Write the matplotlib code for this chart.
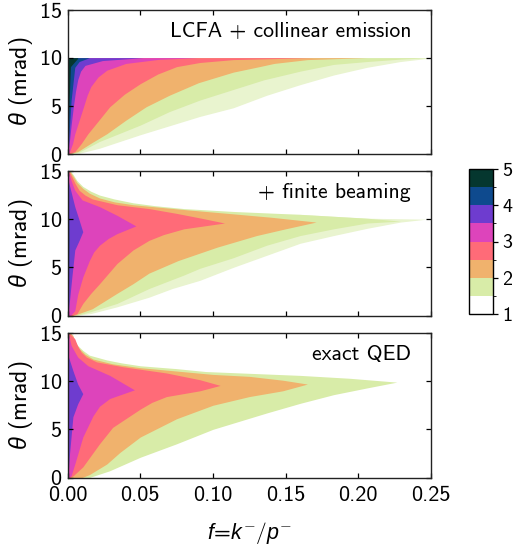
import matplotlib
matplotlib.use('Agg')
import matplotlib.pyplot as plt
from matplotlib.colors import ListedColormap, BoundaryNorm
from matplotlib.cm import ScalarMappable

plt.rcParams['font.family'] = ['cmss10', 'DejaVu Sans']
plt.rcParams['mathtext.fontset'] = 'custom'
plt.rcParams['mathtext.rm'] = 'cmss10'
plt.rcParams['mathtext.it'] = 'Liberation Sans:italic'
plt.rcParams['mathtext.fallback'] = 'cm'
plt.rcParams['axes.unicode_minus'] = False
plt.rcParams['axes.formatter.use_mathtext'] = True

# colour levels of the colourbar, lowest to highest
levels = [1, 1.5, 2, 2.5, 3, 3.5, 4, 4.5, 5]
colors = ['#ffffff', '#d8eca8', '#f0b26d', '#ff6b78', '#dd44bb', '#6e3ccf', '#0e4a8e', '#05372f']
cbar_ticks = [1, 2, 3, 4, 5]
speckle = '#e9f4cf'

# panel 1: LCFA + collinear emission, outer edge of each level
p1_fringe_t = [0, 0.07, 0.6, 2.0, 3.9, 4.8, 6.1, 7.2, 8.2, 9.0, 9.6, 10]
p1_fringe_f = [0.002, 0.008, 0.022, 0.05, 0.091, 0.114, 0.137, 0.16, 0.183, 0.206, 0.229, 0.252]
p1_green_t = [0, 0.2, 1.3, 3.0, 4.4, 5.6, 6.7, 7.7, 8.6, 9.3, 9.6, 9.85, 10]
p1_green_f = [0.002, 0.008, 0.022, 0.05, 0.07, 0.091, 0.114, 0.135, 0.16, 0.183, 0.206, 0.229, 0.25]
p1_orange_t = [0, 0.25, 1.2, 2.1, 3.5, 4.9, 6.1, 7.4, 8.5, 9.07, 9.4, 9.8, 10]
p1_orange_f = [0.001, 0.007, 0.017, 0.027, 0.04, 0.054, 0.07, 0.09, 0.114, 0.132, 0.142, 0.165, 0.206]
p1_pink_t = [0, 0.25, 1.1, 2.1, 3.4, 4.9, 6.2, 7.3, 8.3, 9.07, 9.5, 9.8, 10]
p1_pink_f = [0.0005, 0.005, 0.0095, 0.014, 0.021, 0.029, 0.039, 0.05, 0.062, 0.075, 0.091, 0.114, 0.169]
p1_magenta_t = [0, 0.25, 1.1, 2.1, 3.5, 4.9, 6.1, 7, 8, 8.7, 9.4, 9.83, 10]
p1_magenta_f = [0.0003, 0.0014, 0.0035, 0.005, 0.008, 0.011, 0.0135, 0.016, 0.021, 0.027, 0.04, 0.063, 0.09]
p1_purple_t = [0, 1.45, 3, 4.9, 6.5, 7.7, 8.6, 9.2, 9.7, 10]
p1_purple_f = [0.0002, 0.0014, 0.0025, 0.004, 0.0055, 0.007, 0.009, 0.012, 0.024, 0.052]
p1_blue_t = [0, 0.75, 5.6, 9, 9.6, 10]
p1_blue_f = [0.0001, 0.0005, 0.0025, 0.005, 0.008, 0.015]
p1_dark_t = [0, 5, 9.07, 9.93, 10]
p1_dark_f = [0.0001, 0.001, 0.002, 0.007, 0.007]

# panel 2: + finite beaming
p2_fringe_t = [0, 0.2, 0.9, 1.9, 2.8, 3.65, 5.0, 6.25, 7.5, 8.3, 9.05, 9.7, 10, 10.1, 10.5]
p2_fringe_f = [0.006, 0.016, 0.034, 0.056, 0.072, 0.091, 0.114, 0.137, 0.16, 0.183, 0.206, 0.229, 0.247, 0.206, 0.16]
p2_green_t = [0, 0.4, 1.25, 2.8, 4.2, 4.9, 6, 7.3, 8.3, 9, 9.6, 9.8, 10.1, 10.5, 10.8, 11.1, 11.4, 11.7, 12.1, 12.5, 12.9, 13.4, 14, 14.6, 15]
p2_green_f = [0.006, 0.016, 0.034, 0.056, 0.08, 0.091, 0.114, 0.137, 0.16, 0.183, 0.206, 0.229, 0.206, 0.16, 0.114, 0.08, 0.06, 0.045, 0.032, 0.022, 0.016, 0.0105, 0.0065, 0.004, 0.002]
p2_orange_t = [0, 0.7, 2.3, 3.3, 4.4, 5.7, 7.1, 8.3, 9.0, 9.4, 9.7, 10.2, 10.55, 11, 11.5, 11.8, 12.2, 12.7, 13.2, 13.8, 14.5, 15]
p2_orange_f = [0.004, 0.017, 0.034, 0.045, 0.056, 0.076, 0.103, 0.13, 0.15, 0.162, 0.171, 0.14, 0.114, 0.08, 0.045, 0.032, 0.022, 0.015, 0.0105, 0.0065, 0.0037, 0.0015]
p2_pink_t = [0, 0.2, 1.25, 2.3, 3.3, 5.4, 6.8, 7.8, 8.4, 9.0, 9.6, 10.1, 10.6, 11.1, 11.5, 12.1, 12.5, 13, 13.7, 14.4, 15]
p2_pink_f = [0.003, 0.0065, 0.0105, 0.016, 0.022, 0.034, 0.045, 0.056, 0.066, 0.08, 0.108, 0.092, 0.075, 0.056, 0.034, 0.017, 0.012, 0.008, 0.0052, 0.003, 0.001]
p2_magenta_t = [0, 0.5, 2.2, 4, 5.7, 6.6, 7.3, 8, 8.5, 9.3, 10.4, 11.3, 12, 13, 14, 15]
p2_magenta_f = [0.002, 0.005, 0.007, 0.0105, 0.015, 0.018, 0.022, 0.028, 0.034, 0.047, 0.034, 0.022, 0.01, 0.005, 0.0025, 0.0005]
p2_purple_t = [0, 1, 4, 6.8, 7.8, 8.7, 9.9, 11.3, 12.5, 14]
p2_purple_f = [0.0005, 0.001, 0.003, 0.005, 0.008, 0.0105, 0.008, 0.005, 0.003, 0.0005]
p2_blue_t = [0, 2, 8, 13, 14.5]
p2_blue_f = [0.0002, 0.0007, 0.001, 0.0007, 0.0002]

# panel 3: exact QED
p3_green_t = [0, 0.7, 2.1, 3.5, 5.0, 6.7, 7.7, 8.6, 9.3, 9.9, 10.3, 10.6, 11.0, 11.3, 11.6, 11.9, 12.2, 12.7, 13.2, 13.7, 14.3, 14.9, 15]
p3_green_f = [0.015, 0.029, 0.05, 0.075, 0.1, 0.137, 0.16, 0.183, 0.206, 0.2265, 0.194, 0.16, 0.095, 0.075, 0.05, 0.037, 0.027, 0.015, 0.0105, 0.007, 0.0045, 0.0025, 0.002]
p3_orange_t = [0, 0.3, 1.4, 2.6, 4.2, 6.1, 7.5, 8.4, 9, 9.7, 10.1, 10.5, 10.7, 11.4, 11.8, 12.3, 12.8, 13.4, 14, 14.75, 15]
p3_orange_f = [0.01, 0.015, 0.027, 0.036, 0.05, 0.075, 0.1, 0.125, 0.148, 0.165, 0.148, 0.125, 0.1, 0.05, 0.031, 0.0175, 0.012, 0.008, 0.0055, 0.0037, 0.002]
p3_pink_t = [0, 0.2, 1.1, 3.5, 5.2, 7.1, 7.8, 8.4, 9, 9.56, 10.15, 10.85, 11.5, 12, 12.5, 13, 13.7, 14.4, 15]
p3_pink_f = [0.002, 0.004, 0.0105, 0.022, 0.031, 0.05, 0.058, 0.068, 0.091, 0.105, 0.091, 0.068, 0.038, 0.02, 0.013, 0.0094, 0.0068, 0.005, 0.001]
p3_magenta_t = [0, 0.2, 1.4, 4.2, 6.4, 7.4, 8.2, 9.1, 10.6, 11.6, 12.5, 13.7, 15]
p3_magenta_f = [0.001, 0.0025, 0.005, 0.0105, 0.0175, 0.022, 0.029, 0.046, 0.029, 0.014, 0.007, 0.0025, 0.0005]
p3_purple_t = [0, 2.5, 6.3, 7.65, 8.7, 9.7, 11.1, 12.5, 14]
p3_purple_f = [0.0003, 0.0014, 0.0037, 0.007, 0.0105, 0.007, 0.0037, 0.0007, 0.0002]
p3_blue_t = [2, 5, 9, 12]
p3_blue_f = [0.0001, 0.0006, 0.0006, 0.0001]

panels = [
    ('LCFA + collinear emission',
     [(p1_fringe_t, p1_fringe_f, speckle), (p1_green_t, p1_green_f, colors[1]), (p1_orange_t, p1_orange_f, colors[2]),
      (p1_pink_t, p1_pink_f, colors[3]), (p1_magenta_t, p1_magenta_f, colors[4]), (p1_purple_t, p1_purple_f, colors[5]),
      (p1_blue_t, p1_blue_f, colors[6]), (p1_dark_t, p1_dark_f, colors[7])]),
    ('+ finite beaming',
     [(p2_fringe_t, p2_fringe_f, speckle), (p2_green_t, p2_green_f, colors[1]), (p2_orange_t, p2_orange_f, colors[2]),
      (p2_pink_t, p2_pink_f, colors[3]), (p2_magenta_t, p2_magenta_f, colors[4]), (p2_purple_t, p2_purple_f, colors[5]),
      (p2_blue_t, p2_blue_f, colors[6])]),
    ('exact QED',
     [(p3_green_t, p3_green_f, colors[1]), (p3_orange_t, p3_orange_f, colors[2]), (p3_pink_t, p3_pink_f, colors[3]),
      (p3_magenta_t, p3_magenta_f, colors[4]), (p3_purple_t, p3_purple_f, colors[5]), (p3_blue_t, p3_blue_f, colors[6])]),
]

W, H = 513, 546
fig = plt.figure(figsize=(W / 100, H / 100), dpi=100)

tops = [9.5, 171, 333]
for i, (title, edges) in enumerate(panels):
    ax = fig.add_axes([67.5 / W, 1 - (tops[i] + 144.5) / H, 363.5 / W, 144.5 / H])
    for t, f, c in edges:
        ax.fill_betweenx(t, 0, f, color=c, lw=0)
    ax.set_xlim(0, 0.25)
    ax.set_ylim(0, 15)
    ax.set_xticks([0, 0.05, 0.10, 0.15, 0.20, 0.25])
    ax.set_yticks([0, 5, 10, 15])
    ax.tick_params(direction='in', top=True, right=True, length=3.5, width=0.9, labelsize=16, pad=4)
    ax.set_ylabel(r'$\theta$ (mrad)', fontsize=17)
    ax.yaxis.set_label_coords(-0.09, 0.5)
    for s in ax.spines.values():
        s.set_linewidth(1.0)
        s.set_color('#222222')
    ax.text(0.945, 0.85, title, transform=ax.transAxes, ha='right', va='center', fontsize=15.6)
    if i < 2:
        ax.tick_params(labelbottom=False)
    else:
        ax.set_xticklabels(['0.00', '0.05', '0.10', '0.15', '0.20', '0.25'])
        ax.tick_params(axis='x', pad=6)
        ax.set_xlabel(r'$f\!=\!k^{-}/p^{-}$', fontsize=15.5, labelpad=11)

cax = fig.add_axes([469 / W, 1 - 314 / H, 24 / W, 145 / H])
sm = ScalarMappable(norm=BoundaryNorm(levels, len(colors)), cmap=ListedColormap(colors))
cb = fig.colorbar(sm, cax=cax, ticks=cbar_ticks, spacing='uniform')
cb.set_ticklabels([str(v) for v in cbar_ticks])
cb.ax.tick_params(labelsize=14.5, length=3.5, width=0.9, pad=3)
cb.outline.set_linewidth(1.0)

fig.savefig('out.png', dpi=100)
